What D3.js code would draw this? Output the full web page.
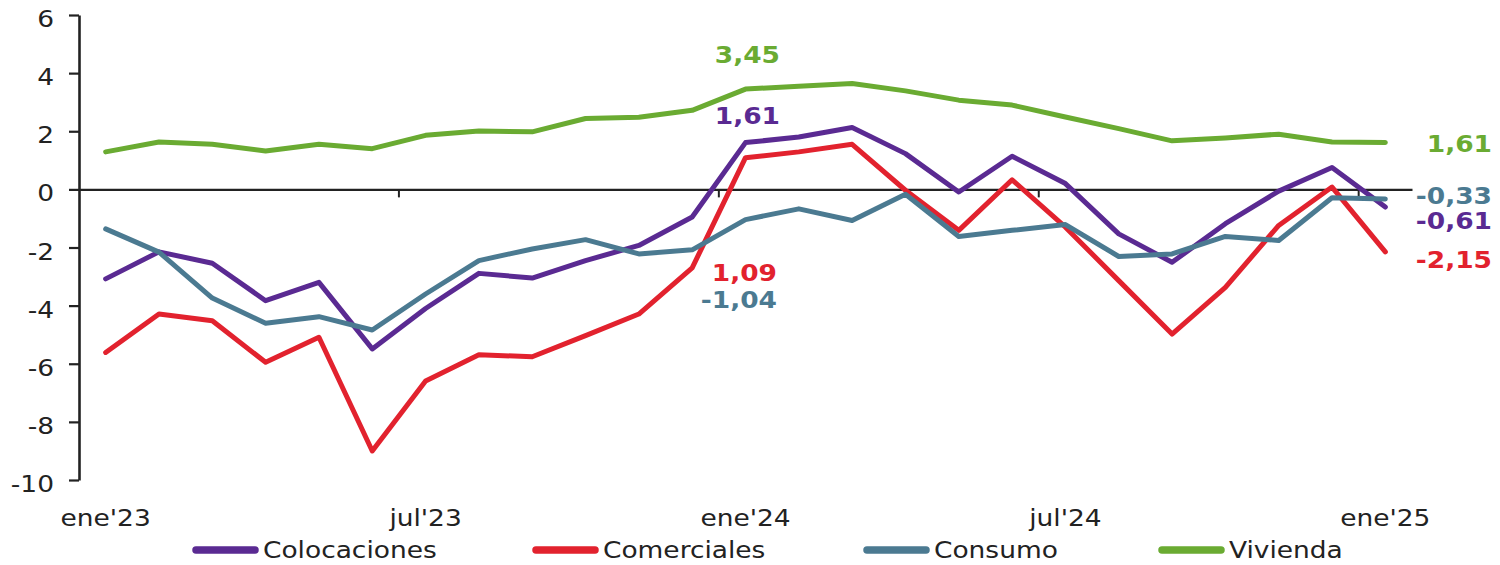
<!DOCTYPE html>
<html><head><meta charset="utf-8">
<script src="https://cdn.jsdelivr.net/npm/d3@7"></script>
<style>
html,body{margin:0;padding:0;background:#fff;}
svg{display:block;}
text{font-family:"DejaVu Sans",Verdana,sans-serif;}
</style></head>
<body>
<svg id="c" width="1500" height="565"></svg>
<script>
const months = ["ene'23","feb'23","mar'23","abr'23","may'23","jun'23","jul'23","ago'23","sep'23","oct'23","nov'23","dic'23",
  "ene'24","feb'24","mar'24","abr'24","may'24","jun'24","jul'24","ago'24","sep'24","oct'24","nov'24","dic'24","ene'25"];
const tickLabelIdx = [0, 6, 12, 18, 24];
const yTicks = [-10, -8, -6, -4, -2, 0, 2, 4, 6];
const seriesNames = ["Colocaciones", "Comerciales", "Consumo", "Vivienda"];
const colocaciones = [-3.08,-2.15,-2.54,-3.83,-3.2,-5.49,-4.1,-2.89,-3.05,-2.45,-1.93,-0.95,1.61,1.80,2.13,1.23,-0.09,1.14,0.2,-1.53,-2.51,-1.18,-0.06,0.75,-0.61];
const comerciales = [-5.61,-4.29,-4.52,-5.95,-5.09,-9.0,-6.59,-5.69,-5.76,-5.03,-4.29,-2.7,1.09,1.29,1.55,-0.03,-1.41,0.33,-1.3,-3.14,-4.98,-3.37,-1.24,0.08,-2.15];
const consumo = [-1.36,-2.16,-3.74,-4.61,-4.38,-4.84,-3.6,-2.45,-2.05,-1.73,-2.22,-2.08,-1.04,-0.67,-1.07,-0.17,-1.62,-1.41,-1.21,-2.31,-2.22,-1.62,-1.76,-0.29,-0.33];
const vivienda = [1.29,1.63,1.55,1.32,1.55,1.40,1.86,2.01,1.98,2.44,2.48,2.72,3.45,3.55,3.64,3.39,3.07,2.9,2.49,2.09,1.67,1.77,1.90,1.63,1.61];
// annotated values: [series index, month index, text]
const annotations = [[3,12,"3,45"],[0,12,"1,61"],[1,12,"1,09"],[2,12,"-1,04"],[3,24,"1,61"],[2,24,"-0,33"],[0,24,"-0,61"],[1,24,"-2,15"]];

const values = [colocaciones, comerciales, consumo, vivienda];
const colors = ["#5a2a92", "#e2222e", "#4b7a91", "#6aab32"];

const svg = d3.select("#c");
const SX = 1.15; // horizontal stretch of the original picture
const fs = 23;

const x = d3.scaleBand().domain(d3.range(months.length)).range([79, 1412]).padding(0);
const y = d3.scaleLinear().domain([-10, 6]).range([480, 15]);
const cx = i => x(i) + x.bandwidth() / 2;

// zero axis
const xa = svg.append("g").attr("transform", `translate(0,${y(0)})`)
  .call(d3.axisBottom(x).tickValues([]).tickSizeOuter(0));
xa.select(".domain").attr("stroke", "#222").attr("stroke-width", 2.2);
// boundary ticks every 6 months
svg.append("g").selectAll("line").data(tickLabelIdx.slice(1)).join("line")
  .attr("x1", d => x(d)).attr("x2", d => x(d))
  .attr("y1", y(0)).attr("y2", y(0) + 8)
  .attr("stroke", "#222").attr("stroke-width", 2);

// x labels
svg.append("g").selectAll("text").data(tickLabelIdx).join("text")
  .attr("transform", d => `translate(${cx(d)},526) scale(${SX},1)`)
  .attr("text-anchor", "middle").attr("font-size", fs).attr("fill", "#222")
  .text(d => months[d]);

// y axis
const ya = svg.append("g").attr("transform", "translate(79,0)")
  .call(d3.axisLeft(y).tickValues(yTicks).tickSize(10).tickSizeOuter(0).tickFormat(d3.format("d")));
ya.select(".domain").attr("stroke", "#222").attr("stroke-width", 2.6);
ya.selectAll(".tick line").attr("stroke", "#222").attr("stroke-width", 2.2);
ya.selectAll(".tick text")
  .attr("x", -25 / SX).attr("dy", "0.5em")
  .attr("transform", `scale(${SX},1)`)
  .attr("font-size", fs).attr("fill", "#222")
  .attr("font-family", "DejaVu Sans, Verdana, sans-serif")
  .text(d => d < 0 ? "-" + Math.abs(d) : d);

// lines
const line = d3.line().x((d, i) => cx(i)).y(d => y(d));
svg.append("g").selectAll("path").data(values).join("path")
  .attr("d", d => line(d))
  .attr("fill", "none")
  .attr("stroke", (d, i) => colors[i])
  .attr("stroke-width", 5)
  .attr("stroke-linejoin", "round")
  .attr("stroke-linecap", "round");

// annotations
const annPos = {"3,12":[780,63],"0,12":[780,124],"1,12":[777,281],"2,12":[777,308],
  "3,24":[1492,152],"2,24":[1492,204],"0,24":[1492,229],"1,24":[1492,268]};
svg.append("g").selectAll("text").data(annotations).join("text")
  .attr("transform", d => { const p = annPos[d[0] + "," + d[1]]; return `translate(${p[0]},${p[1]}) scale(${SX},1)`; })
  .attr("text-anchor", "end").attr("font-size", fs).attr("font-weight", "bold")
  .attr("fill", d => colors[d[0]])
  .text(d => d[2]);

// legend
const legX = [193, 533, 864, 1159];
const lg = svg.append("g").selectAll("g").data(seriesNames).join("g")
  .attr("transform", (d, i) => `translate(${legX[i]},550)`);
lg.append("line").attr("x1", 3).attr("x2", 62).attr("y1", 0).attr("y2", 0)
  .attr("stroke", (d, i) => colors[i]).attr("stroke-width", 7.5).attr("stroke-linecap", "round");
lg.append("text").attr("transform", `translate(70,8) scale(${SX},1)`)
  .attr("font-size", fs).attr("fill", "#222").text(d => d);
</script>
</body></html>
